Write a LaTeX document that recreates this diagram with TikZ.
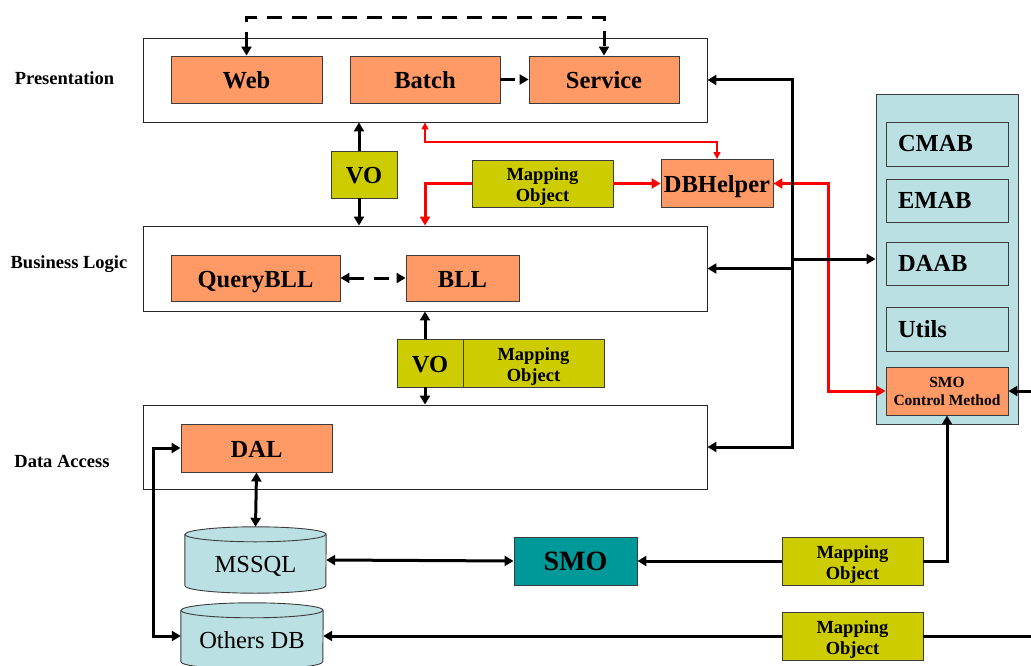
\documentclass[tikz,border=0pt]{standalone}
\usepackage{fontspec}
\setmainfont{Liberation Serif}
\usetikzlibrary{arrows.meta,calc}
\definecolor{boxorange}{RGB}{255,153,102}
\definecolor{olivebox}{RGB}{204,204,0}
\definecolor{paleblue}{RGB}{186,224,228}
\definecolor{tealbox}{RGB}{0,153,153}
\definecolor{edgegray}{RGB}{60,60,60}

% database cylinder drawn around an (empty) named node; #1 node, #2 x radius
\newcommand\dbcyl[2]{%
  \filldraw[fill=paleblue,draw=edgegray,line width=0.9pt]
    ([yshift=-7.5pt]#1.north west) -- ([yshift=7.5pt]#1.south west)
    arc[start angle=180,end angle=360,x radius=#2,y radius=7.5pt]
    -- ([yshift=-7.5pt]#1.north east)
    arc[start angle=0,end angle=180,x radius=#2,y radius=7.5pt] -- cycle;
  \draw[edgegray,line width=0.9pt] ([yshift=-7.5pt]#1.north west)
    arc[start angle=180,end angle=360,x radius=#2,y radius=7.5pt];
}
% two centred lines, set a little lower than the geometric centre
\newcommand\twolines[3][3.5pt]{%
  \raisebox{-#1}[\height][\depth]{\begin{tabular}{@{}c@{}}#2\\#3\end{tabular}}}

\begin{document}
\begin{tikzpicture}[x=1pt,y=-1pt,
  layerbox/.style={draw=black!85,line width=0.9pt,fill=white,inner sep=0pt,
    minimum width=564pt,minimum height=84pt},
  layerlabel/.style={inner sep=0pt,font=\fontsize{18.5}{22}\selectfont\bfseries},
  comp/.style={draw=edgegray,line width=0.9pt,fill=boxorange,inner sep=0pt,
    text height=18pt,text depth=0pt,
    minimum height=47pt,font=\fontsize{24.5}{28}\selectfont\bfseries},
  vobox/.style={draw=edgegray,line width=0.9pt,fill=olivebox,inner sep=0pt,
    text height=18pt,text depth=0pt,
    minimum width=66pt,minimum height=47pt,font=\fontsize{24.5}{28}\selectfont\bfseries},
  mapobj/.style={draw=edgegray,line width=0.9pt,fill=olivebox,inner sep=0pt,
    minimum width=141pt,minimum height=48pt,
    font=\fontsize{18.5}{21}\selectfont\bfseries},
  panelbox/.style={draw=edgegray,line width=0.9pt,fill=paleblue,inner sep=0pt,
    minimum width=142pt,minimum height=330pt},
  panelitem/.style={draw=edgegray,line width=0.9pt,fill=paleblue,inner ysep=0pt,
    inner xsep=12pt,text width=98pt,align=left,minimum height=43pt,
    font=\fontsize{24.5}{28}\selectfont\bfseries},
  smoctrl/.style={draw=edgegray,line width=0.9pt,fill=boxorange,inner sep=0pt,
    minimum width=122pt,minimum height=48pt,
    font=\fontsize{15.5}{18}\selectfont\bfseries},
  smobox/.style={draw=edgegray,line width=0.9pt,fill=tealbox,inner sep=0pt,
    minimum width=123pt,minimum height=48pt,font=\fontsize{28}{32}\selectfont\bfseries},
  dbnode/.style={inner sep=0pt,minimum height=66pt},
  dbtext/.style={inner sep=0pt,text height=16.5pt,text depth=0pt,
    font=\fontsize{24.5}{28}\selectfont},
  conn/.style={draw=black,line width=3pt,line join=miter,>={Triangle[length=9pt,width=10pt]}},
  dashconn/.style={conn,dash pattern=on 15pt off 10pt},
  redthick/.style={draw=red,line width=3pt,line join=miter,>={Triangle[length=9pt,width=10pt]}},
  redthin/.style={draw=red,line width=1.3pt,line join=miter,>={Triangle[length=7pt,width=7pt]}},
]
\useasboundingbox (0,0) rectangle (1031,666);

% layer frames and their captions
\node[layerbox] (pres) at (425,80) {};
\node[layerbox,minimum height=85pt] (bl) at (425,268.5) {};
\node[layerbox] (da) at (425,447) {};
\node[layerlabel] (lpres) at (64.5,78) {Presentation};
\node[layerlabel] (lbl) at (69,264) {Business Logic};
\node[layerlabel] (lda) at (62,461) {Data Access};

% presentation layer
\node[comp,minimum width=151pt] (web) at (246.5,79.5) {Web};
\node[comp,minimum width=150pt] (batch) at (425,79.5) {Batch};
\node[comp,minimum width=150pt] (service) at (604,79.5) {Service};

% business logic layer
\node[comp,minimum width=169pt,minimum height=46pt] (querybll) at (255.5,278) {QueryBLL};
\node[comp,minimum width=113pt,minimum height=46pt] (bll) at (462.5,278) {BLL};

% data access layer
\node[comp,minimum width=151pt,minimum height=48pt] (dal) at (256.5,448) {DAL};

% value / mapping objects between layers
\node[vobox] (vo1) at (364,174.5) {VO};
\node[mapobj,minimum height=47pt] (mo1) at (542.5,183.5) {\twolines{Mapping}{Object}};
\node[comp,minimum width=112pt,minimum height=48pt] (dbh) at (717,183.5) {DBHelper};
\node[vobox,minimum height=48pt] (vo2) at (430,363) {VO};
\node[mapobj] (mo2) at (533.5,363) {\twolines{Mapping}{Object}};

% application blocks panel
\node[panelbox] (panel) at (947,259) {};
\node[panelitem,minimum height=44pt] (cmab) at (947,144) {CMAB};
\node[panelitem] (emab) at (947,200.5) {EMAB};
\node[panelitem] (daab) at (947,263.5) {DAAB};
\node[panelitem,minimum height=44pt] (utils) at (947,329) {Utils};
\node[smoctrl] (smoc) at (947,391) {\twolines[2pt]{SMO}{Control Method}};

% databases
\node[dbnode,minimum width=141pt] (mssql) at (255.5,560) {};
\dbcyl{mssql}{70.5pt}
\node[dbtext] (mssqltxt) at ([yshift=-4pt]mssql.center) {MSSQL};
\node[dbnode,minimum width=142pt] (others) at (252,636) {};
\dbcyl{others}{71pt}
\node[dbtext] (otherstxt) at ([yshift=-4.5pt]others.center) {Others DB};

% SMO and its mapping objects
\node[smobox] (smo) at (575.5,561) {SMO};
\node[mapobj] (mo3) at (852.5,561) {\twolines{Mapping}{Object}};
\node[mapobj] (mo4) at (852.5,636) {\twolines{Mapping}{Object}};

% helper points for routed connectors
\coordinate (dtop) at (425,18);
\coordinate (vo1ax) at ([xshift=-5pt]vo1.center);
\coordinate (vo2ax) at ([xshift=-5pt]vo2.center);
\coordinate (rbend) at (717,142);
\coordinate (rjog) at (828,0);
\coordinate (bus) at (792,447);
\coordinate (lbus) at (153,0);
\coordinate (eastedge) at (1031,0);

% dashed links in the presentation and business layers
\draw[dashconn,<->] (web.north) |- (dtop) -| (service.north);
\draw[dashconn,->] (batch.east) -- (service.west);
\draw[dashconn,<->] (querybll.east) -- (bll.west);

% VO links between layers
\draw[conn,->] (vo1ax |- vo1.north) -- (vo1ax |- pres.south);
\draw[conn,->] (vo1ax |- vo1.south) -- (vo1ax |- bl.north);
\draw[conn,->] (vo2ax |- vo2.north) -- (vo2ax |- bl.south);
\draw[conn,->] (vo2ax |- vo2.south) -- (vo2ax |- da.north);

% DBHelper links
\draw[redthin,<->] (pres.south) |- (rbend) -- (dbh.north);
\draw[redthick,->] (mo1.west) -| (bl.north);
\draw[redthick,->] (mo1.east) -- (dbh.west);
\draw[redthick,<->] (dbh.east) -| (rjog |- smoc.west) -- (smoc.west);

% bus to the application blocks
\draw[conn,<->] (pres.east) -| (bus) -- (da.east);
\draw[conn,->] (bus |- bl.east) -- (bl.east);
\draw[conn,->] (bus |- panel.west) -- (panel.west);
\draw[conn,->] (eastedge |- smoc.east) -- (smoc.east);

% data access to the databases
\draw[conn,<->] (dal.south) -- (mssql.north);
\draw[conn,<->] (dal.west) -| (lbus |- others.west) -- (others.west);
\draw[conn,<->] (mssql.east) -- (smo.west);
\draw[conn,->] (mo3.west) -- (smo.east);
\draw[conn,->] (mo3.east) -| (smoc.south);
\draw[conn] (eastedge |- mo4.east) -- (mo4.east);
\draw[conn,->] (mo4.west) -- (others.east);
\end{tikzpicture}
\end{document}
